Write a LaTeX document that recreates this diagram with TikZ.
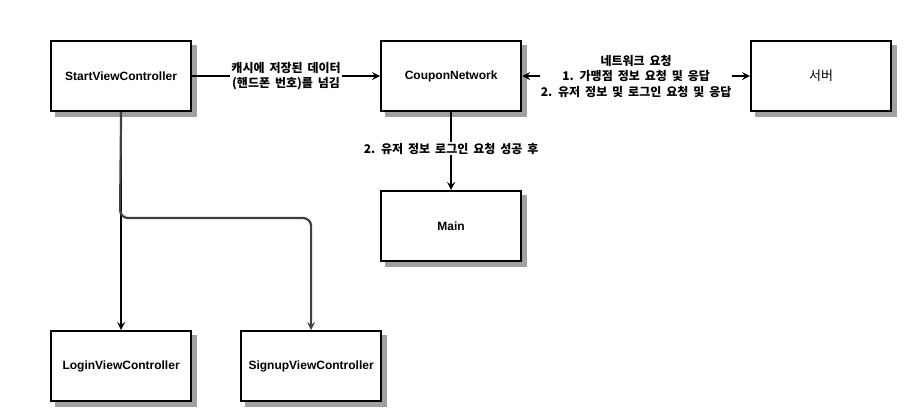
\documentclass[tikz,border=0pt]{standalone}
\usepackage{fontspec}
\setmainfont{Liberation Sans}
\newfontfamily\kr{Noto Sans CJK KR}[WordSpace=1.8]
\usetikzlibrary{arrows.meta}
\definecolor{shadowgray}{HTML}{A0A0A0}
\begin{document}
\begin{tikzpicture}[x=1pt,y=-1pt,
  box/.style={draw=black,line width=2.2pt,fill=white,minimum width=140pt,minimum height=70pt,inner sep=0pt,anchor=north west,font=\fontsize{12}{14}\selectfont\bfseries},
  shadowbox/.style={fill=shadowgray,draw=none},
  conn/.style={line width=2.2pt,-{Stealth[length=8pt,width=8pt,inset=3pt]}},
  lbl/.style={fill=white,inner sep=1pt,align=center,font=\kr\fontsize{12}{15.5}\selectfont\bfseries}
]
\useasboundingbox (0,0) rectangle (910,420);
\path[shadowbox] (55,45) rectangle (197,117);
\path[shadowbox] (385,45) rectangle (527,117);
\path[shadowbox] (755,45) rectangle (897,117);
\path[shadowbox] (385,195) rectangle (527,267);
\path[shadowbox] (55,335) rectangle (197,407);
\path[shadowbox] (245,335) rectangle (387,407);
\node[box] (start) at (50,40) {StartViewController};
\node[box] (coupon) at (380,40) {CouponNetwork};
\node[box] (server) at (750,40) {\kr\mdseries\fontsize{13}{15}\selectfont 서버};
\node[box] (main) at (380,190) {Main};
\node[box] (login) at (50,330) {LoginViewController};
\node[box] (signup) at (240,330) {SignupViewController};

\draw[conn] (start.east) -- (coupon.west)
  node[lbl,midway] {캐시에 저장된 데이터\\(핸드폰 번호)를 넘김};
\draw[conn,{Stealth[length=8pt,width=8pt,inset=3pt]}-{Stealth[length=8pt,width=8pt,inset=3pt]}] (coupon.east) -- (server.west)
  node[lbl,midway] {네트워크 요청\\1. 가맹점 정보 요청 및 응답\\2. 유저 정보 및 로그인 요청 및 응답};
\draw[conn] (coupon.south) -- (main.north)
  node[lbl,pos=0.47] {2. 유저 정보 로그인 요청 성공 후};
\draw[conn] (start.south) -- (login.north);
\coordinate (bend) at (120,218);
\draw[conn,draw=black!75,rounded corners=8pt] (start.south) -- (bend) -- (signup.north |- bend) -- (signup.north);
\end{tikzpicture}
\end{document}
